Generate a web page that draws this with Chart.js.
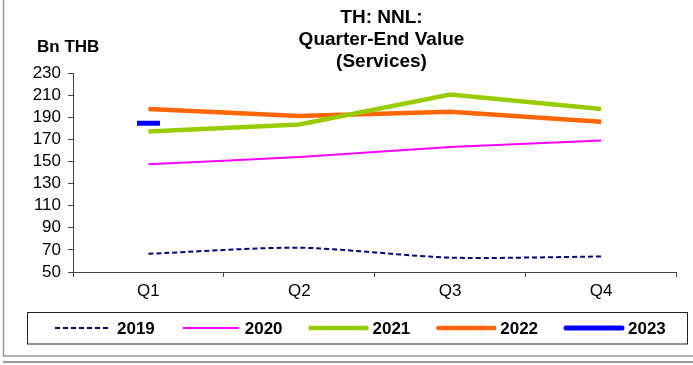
<!DOCTYPE html>
<html>
<head>
<meta charset="utf-8">
<script src="https://cdn.jsdelivr.net/npm/chart.js@4/dist/chart.umd.min.js"></script>
<style>
  html, body { margin: 0; padding: 0; background: #fff; }
  #wrap { position: relative; width: 693px; height: 365px; }
</style>
</head>
<body>
<div id="wrap"><canvas id="c" width="693" height="365"></canvas></div>
<script>
// quarters and yearly series (Bn THB)
var quarters = ['Q1', 'Q2', 'Q3', 'Q4'];
var years = ['2019', '2020', '2021', '2022', '2023'];
var v2019 = [66.5, 72, 63, 64];
var v2020 = [147.5, 154, 163, 169];
var v2021 = [177, 183.5, 210.5, 197.5];
var v2022 = [197.5, 191, 195, 186];
var v2023 = [184.5, null, null, null];
var yTicks = { min: 50, max: 230, step: 20 };

var FONT = '"Liberation Sans", Arial, sans-serif';

// line look for each year
var styles = {
  '2019': { color: '#000080', width: 2, dash: [5, 3], tension: 0.25 },
  '2020': { color: '#ff00ff', width: 2, dash: [], tension: 0.2 },
  '2021': { color: '#99cc00', width: 4.5, dash: [], tension: 0 },
  '2022': { color: '#ff6600', width: 4.5, dash: [], tension: 0 },
  '2023': { color: '#0000ff', width: 5, dash: [], tension: 0 }
};

function makeSet(year, values) {
  var s = styles[year];
  return {
    label: year,
    data: values,
    borderColor: s.color,
    backgroundColor: s.color,
    borderWidth: s.width,
    borderDash: s.dash,
    tension: s.tension,
    pointRadius: 0,
    pointHoverRadius: 0,
    spanGaps: false
  };
}

var sets = [
  makeSet('2019', v2019),
  makeSet('2020', v2020),
  makeSet('2021', v2021),
  makeSet('2022', v2022),
  makeSet('2023', v2023)
];
// single 2023 value shows as a short dash marker
sets[4].pointStyle = 'line';
sets[4].pointRadius = 11.5;
sets[4].pointBorderWidth = 5;
sets[4].pointBorderColor = styles['2023'].color;

// title, unit label, legend box and outer frame
var decor = {
  id: 'decor',
  afterDraw: function (chart) {
    var ctx = chart.ctx;
    ctx.save();

    // frame
    ctx.strokeStyle = '#9a9a9a';
    ctx.lineWidth = 1.5;
    ctx.beginPath();
    ctx.moveTo(3.5, 0);
    ctx.lineTo(3.5, 356);
    ctx.lineTo(693, 356);
    ctx.stroke();
    ctx.strokeStyle = '#333';
    ctx.lineWidth = 1.2;
    ctx.beginPath();
    ctx.moveTo(3, 362);
    ctx.lineTo(693, 362);
    ctx.stroke();

    // title
    ctx.fillStyle = '#000';
    ctx.textAlign = 'center';
    ctx.textBaseline = 'middle';
    ctx.font = 'bold 19px ' + FONT;
    ['TH: NNL:', 'Quarter-End Value', '(Services)'].forEach(function (t, i) {
      ctx.fillText(t, 381.5, 18 + i * 22);
    });

    // unit
    ctx.font = 'bold 17px ' + FONT;
    ctx.textAlign = 'left';
    ctx.fillText('Bn THB', 37, 47.5);

    // legend
    ctx.strokeStyle = '#222';
    ctx.lineWidth = 1;
    ctx.strokeRect(27.5, 312.5, 660, 31.5);
    chart.data.datasets.forEach(function (ds, i) {
      var x = 55 + i * 127.75;
      var y = 328;
      ctx.strokeStyle = ds.borderColor;
      ctx.lineWidth = ds.borderWidth;
      ctx.lineCap = ds.borderWidth > 3 ? 'round' : 'butt';
      ctx.setLineDash(ds.borderDash || []);
      ctx.beginPath();
      ctx.moveTo(x, y);
      ctx.lineTo(x + 56, y);
      ctx.stroke();
      ctx.setLineDash([]);
      ctx.fillStyle = '#000';
      ctx.font = 'bold 17px ' + FONT;
      ctx.textAlign = 'left';
      ctx.fillText(ds.label, x + 62, y + 1);
    });

    ctx.restore();
  }
};

new Chart(document.getElementById('c'), {
  type: 'line',
  data: { labels: quarters, datasets: sets },
  plugins: [decor],
  options: {
    responsive: false,
    animation: false,
    events: [],
    layout: { padding: { top: 73, right: 13, bottom: 53, left: 0 } },
    plugins: {
      legend: { display: false },
      title: { display: false },
      tooltip: { enabled: false }
    },
    scales: {
      x: {
        offset: true,
        afterFit: function (s) { s.height = 40; },
        grid: {
          offset: true,
          drawOnChartArea: false,
          drawTicks: true,
          tickLength: 5,
          color: '#444',
          lineWidth: 1
        },
        border: { display: true, color: '#444', width: 1 },
        ticks: {
          color: '#000',
          padding: 4,
          font: { family: FONT, size: 17 }
        }
      },
      y: {
        min: yTicks.min,
        max: yTicks.max,
        afterFit: function (s) { s.width = 73; },
        grid: {
          drawOnChartArea: false,
          drawTicks: true,
          tickLength: 5,
          color: '#444',
          lineWidth: 1
        },
        border: { display: true, color: '#444', width: 1 },
        ticks: {
          stepSize: yTicks.step,
          autoSkip: false,
          color: '#000',
          padding: 7,
          font: { family: FONT, size: 17 }
        }
      }
    }
  }
});
</script>
</body>
</html>
